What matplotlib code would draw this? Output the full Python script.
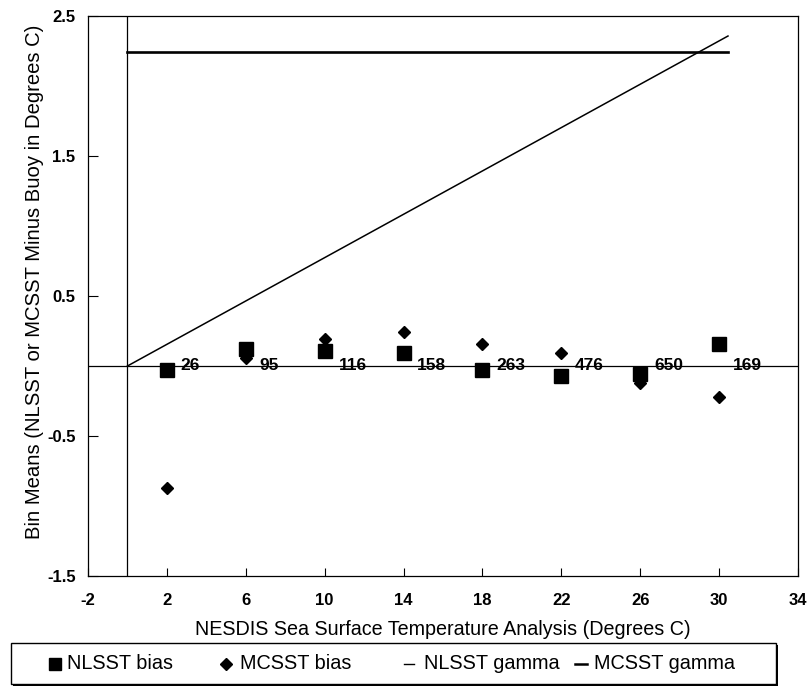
import matplotlib
matplotlib.use("Agg")
import matplotlib.pyplot as plt
from matplotlib.lines import Line2D
from matplotlib.patches import Rectangle

plt.rcParams['font.family'] = ['Liberation Sans', 'DejaVu Sans']

# ---- data ----
sst_bins = [2, 6, 10, 14, 18, 22, 26, 30]
nlsst_bias = [-0.03, 0.12, 0.11, 0.09, -0.03, -0.07, -0.06, 0.16]
mcsst_bias = [-0.87, 0.06, 0.19, 0.24, 0.16, 0.09, -0.12, -0.22]
counts = ["26", "95", "116", "158", "263", "476", "650", "169"]

gamma_x = [0, 30.45]
nlsst_gamma = [0, 2.357]
mcsst_gamma = [2.243, 2.243]

x_ticks = [-2, 2, 6, 10, 14, 18, 22, 26, 30, 34]
y_ticks = [-1.5, -0.5, 0.5, 1.5, 2.5]
legend_labels = ['NLSST bias', 'MCSST bias', 'NLSST gamma', 'MCSST gamma']

W, H = 810, 686
fig = plt.figure(figsize=(W/100, H/100), dpi=100)


def fx(p):
    return p / W


def fy(p):
    return 1 - p / H


ax = fig.add_axes([fx(88), fy(576), (798-88)/W, (576-16)/H])

ax.set_xlim(-2, 34)
ax.set_ylim(-1.5, 2.5)

ax.axhline(0, color='black', lw=0.9, zorder=1)
ax.axvline(0, color='black', lw=0.9, zorder=1)

ax.plot(gamma_x, nlsst_gamma, color='black', lw=1.1, zorder=2)
ax.plot(gamma_x, mcsst_gamma, color='black', lw=1.9, zorder=2)

ax.plot(sst_bins, mcsst_bias, linestyle='none', marker='D', ms=6.5,
        color='black', zorder=3)
ax.plot(sst_bins, nlsst_bias, linestyle='none', marker='s', ms=9.5,
        color='black', zorder=4)

for xb, c in zip(sst_bins, counts):
    ax.text(xb + 0.7, 0, c, ha='left', va='center', fontsize=12.5,
            fontweight='bold', zorder=5)

ax.set_xticks(x_ticks)
ax.set_yticks(y_ticks)
ax.set_xticklabels([str(t) for t in x_ticks], fontsize=12, fontweight='bold')
ax.set_yticklabels([str(t) for t in y_ticks], fontsize=12, fontweight='bold')
ax.tick_params(direction='in', length=7, width=0.8, pad=9)
ax.tick_params(axis='x', length=6, pad=12)
for s in ax.spines.values():
    s.set_linewidth(0.9)

ax.set_xlabel('NESDIS Sea Surface Temperature Analysis (Degrees C)',
              fontsize=14.2, labelpad=9)
ax.set_ylabel('Bin Means (NLSST or MCSST Minus Buoy in Degrees C)',
              fontsize=14.6)
ax.yaxis.set_label_coords((44 - 88) / (798 - 88), (576 - 282) / (576 - 16))

# ---- legend box (drawn below the axes, as in the original) ----
fig.add_artist(Rectangle((fx(13), fy(686)), fx(778) - fx(13), fy(645) - fy(686),
                         transform=fig.transFigure, facecolor='black',
                         edgecolor='none', zorder=1))
fig.add_artist(Rectangle((fx(11), fy(684)), fx(776) - fx(11), fy(643) - fy(684),
                         transform=fig.transFigure, facecolor='white',
                         edgecolor='black', lw=1.0, zorder=2))
yc = fy(663.5)
handles = [
    Line2D([fx(55)], [yc], linestyle='none', marker='s', ms=9, color='black'),
    Line2D([fx(226)], [yc], linestyle='none', marker='D', ms=6, color='black'),
    Line2D([fx(404), fx(414)], [yc, yc], color='black', lw=1.0),
    Line2D([fx(575), fx(587)], [yc, yc], color='black', lw=1.8),
]
for h in handles:
    h.set_transform(fig.transFigure)
    h.set_zorder(3)
    fig.add_artist(h)
for xp, lab in zip([67, 240, 424, 594], legend_labels):
    fig.text(fx(xp), yc, lab, ha='left', va='center', fontsize=14.3, zorder=3)

fig.savefig('out.png', dpi=100)
